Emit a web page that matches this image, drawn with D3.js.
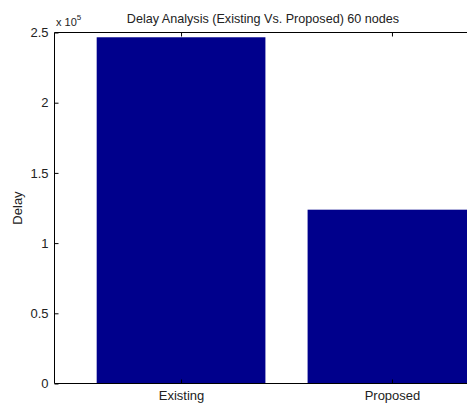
<!DOCTYPE html>
<html>
<head>
<meta charset="utf-8">
<script src="https://cdn.jsdelivr.net/npm/d3@7"></script>
<style>
  html, body { margin: 0; padding: 0; background: #fff; }
  svg { display: block; font-family: "Liberation Sans", Arial, sans-serif; }
  text { fill: #222; }
</style>
</head>
<body>
<svg id="chart" width="467" height="404"></svg>
<script>
// Delay per scheme, in raw units (axis shows them scaled by 10^5)
const categories = ["Existing", "Proposed"];
const delayValues = [246600, 123800];
const yTicks = [0, 0.5, 1, 1.5, 2, 2.5];
const yTickLabels = ["0", "0.5", "1", "1.5", "2", "2.5"];
const exponent = 5;

const svg = d3.select("#chart");
const plot = { left: 54.5, top: 32.5, bottom: 383.5 };
const fontSize = "13px";

// x positions 1..n, axis spanning [0.4, n + 0.6]; the right side runs past the window
const xIndex = d3.scaleLinear().domain([0.4, 2.6]).range([plot.left, plot.left + 464]);
const barWidth = 0.8;
const y = d3.scaleLinear().domain([0, 2.5 * Math.pow(10, exponent)]).range([plot.bottom, plot.top]);

// Bars
svg.append("g").selectAll("rect")
  .data(delayValues)
  .join("rect")
  .attr("x", (d, i) => xIndex(i + 1 - barWidth / 2))
  .attr("width", xIndex(1 + barWidth / 2) - xIndex(1 - barWidth / 2))
  .attr("y", d => y(d))
  .attr("height", d => y(0) - y(d))
  .attr("fill", "#00008c");

// Axes box lines (left, bottom, top)
const xRight = xIndex(2.6);
const frame = svg.append("g").attr("stroke", "#000").attr("stroke-width", 1);
frame.append("line").attr("x1", plot.left).attr("x2", plot.left).attr("y1", plot.top).attr("y2", plot.bottom);
frame.append("line").attr("x1", plot.left).attr("x2", xRight).attr("y1", plot.bottom).attr("y2", plot.bottom);
frame.append("line").attr("x1", plot.left).attr("x2", xRight).attr("y1", plot.top).attr("y2", plot.top);

// Y axis ticks pointing inward, labels on the left
const yScaled = d3.scaleLinear().domain([0, 2.5]).range([plot.bottom, plot.top]);
const yAxis = d3.axisLeft(yScaled)
  .tickValues(yTicks)
  .tickSize(-4)
  .tickPadding(6)
  .tickFormat((d, i) => yTickLabels[i]);
const gy = svg.append("g").attr("transform", `translate(${plot.left},0)`).call(yAxis);
gy.select(".domain").remove();
gy.selectAll("text").style("font-size", fontSize).style("font-family", "inherit").attr("fill", "#222");

// X axis: category labels under bars, ticks inward on bottom and top
const xAxis = d3.axisBottom(xIndex)
  .tickValues(categories.map((c, i) => i + 1))
  .tickSize(-4)
  .tickPadding(7)
  .tickFormat((d) => categories[d - 1]);
const gx = svg.append("g").attr("transform", `translate(0,${plot.bottom})`).call(xAxis);
gx.select(".domain").remove();
gx.selectAll("text").style("font-size", fontSize).style("font-family", "inherit").attr("fill", "#222");

const xTop = d3.axisTop(xIndex)
  .tickValues(categories.map((c, i) => i + 1))
  .tickSize(-4)
  .tickFormat("");
const gxt = svg.append("g").attr("transform", `translate(0,${plot.top})`).call(xTop);
gxt.select(".domain").remove();

// Exponent marker
const expText = svg.append("text").attr("x", 56).attr("y", 26).style("font-size", "11px");
expText.append("tspan").text("x 10");
expText.append("tspan").attr("dy", -6).style("font-size", "8px").text(exponent);

// Title
svg.append("text")
  .attr("x", 263).attr("y", 23)
  .attr("text-anchor", "middle")
  .style("font-size", "12.6px")
  .text("Delay Analysis (Existing Vs. Proposed) 60 nodes");

// Y label
svg.append("text")
  .attr("transform", `translate(22,${(plot.top + plot.bottom) / 2}) rotate(-90)`)
  .attr("text-anchor", "middle")
  .style("font-size", fontSize)
  .text("Delay");
</script>
</body>
</html>
